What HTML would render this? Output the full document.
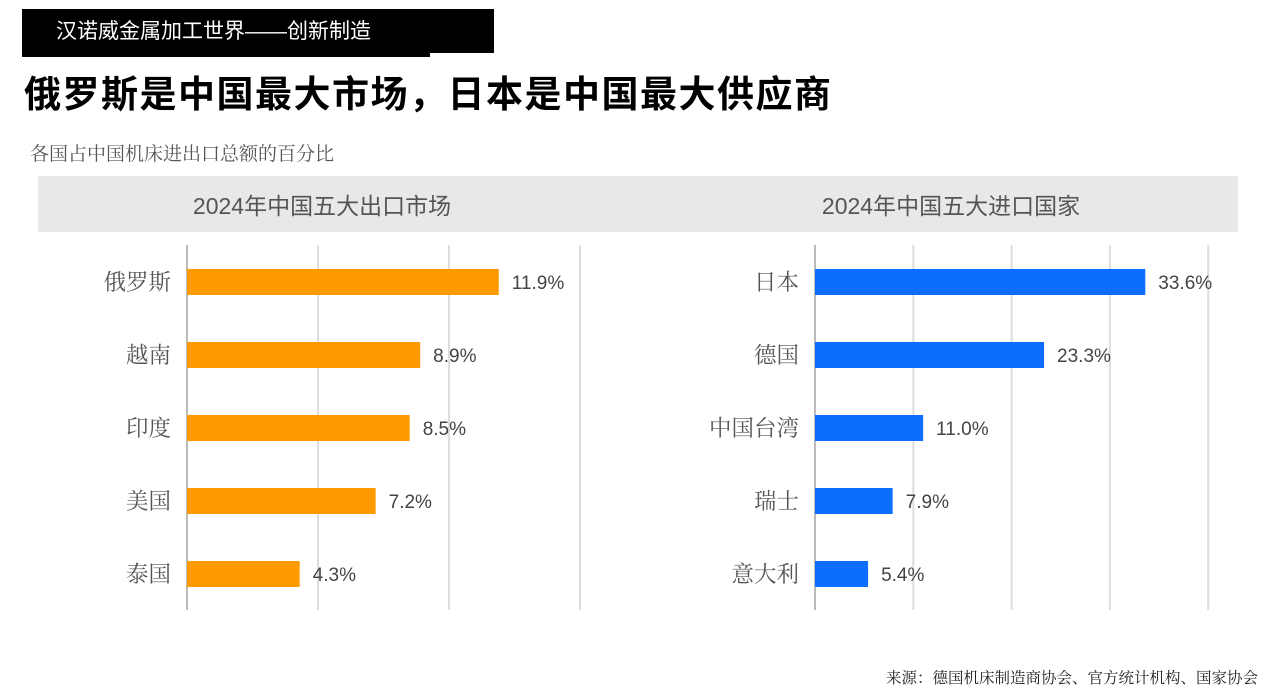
<!DOCTYPE html>
<html><head><meta charset="utf-8"><style>
body{margin:0;width:1279px;height:691px;background:#fff;overflow:hidden;position:relative;font-family:"Liberation Sans","Noto Sans CJK SC",sans-serif}
.abs{position:absolute}
</style></head><body>
<div class="abs" style="left:22px;top:9px;width:472px;height:44px;background:#000"></div>
<div class="abs" style="left:22px;top:50px;width:408px;height:7px;background:#000"></div>
<div class="abs" style="left:56px;top:19px;color:#fff;font-size:21px;line-height:26px">汉诺威金属加工世界——创新制造</div>
<div class="abs" style="left:24px;top:71px;font-size:37px;letter-spacing:1.5px;font-weight:bold;line-height:48px;color:#000">俄罗斯是中国最大市场，日本是中国最大供应商</div>
<div class="abs" style="left:30px;top:139px;font-size:19px;color:#555;font-family:'Noto Serif CJK SC',serif">各国占中国机床进出口总额的百分比</div>
<div class="abs" style="left:38px;top:176px;width:1200px;height:56px;background:#e8e8e8"></div>
<div class="abs" style="left:32px;top:187px;width:580px;text-align:center;font-size:23px;color:#555">2024年中国五大出口市场</div>
<div class="abs" style="left:661px;top:187px;width:580px;text-align:center;font-size:23px;color:#555">2024年中国五大进口国家</div>
<div class="abs" style="left:886px;top:666px;font-size:15.5px;color:#222;font-family:'Noto Serif CJK SC',serif">来源：德国机床制造商协会、官方统计机构、国家协会</div>
<svg class="abs" style="left:0;top:0" width="1279" height="691">
<g id="L"></g><g id="R"></g>
</svg>
<script>
const exportCats=["俄罗斯","越南","印度","美国","泰国"];
const exportVals=[11.9,8.9,8.5,7.2,4.3];
const importCats=["日本","德国","中国台湾","瑞士","意大利"];
const importVals=[33.6,23.3,11.0,7.9,5.4];
const exportTicks=[0,5,10,15];
const importTicks=[0,10,20,30,40];
const NS="http://www.w3.org/2000/svg";
function mk(g,t,a){const e=document.createElementNS(NS,t);for(const k in a)e.setAttribute(k,a[k]);g.appendChild(e);return e;}
function draw(gid,cats,vals,ticks,x0,ppu,color,prefix){
  const g=document.getElementById(gid);
  const x=v=>x0+v*ppu;
  const y=i=>282+i*73;
  ticks.forEach(t=>{const l=mk(g,"line",{x1:x(t),x2:x(t),y1:245,y2:610,stroke:t===0?"#bbb":"#ddd","stroke-width":2});
    
    });
  cats.forEach((c,i)=>{
    const r=mk(g,"rect",{x:x0,y:y(i)-13,width:x(vals[i])-x0,height:26,fill:color});
    
    
    const lb=mk(g,"text",{x:x0-16,y:y(i)+8,"text-anchor":"end","font-size":22.5,fill:"#555","font-family":"'Noto Serif CJK SC',serif"});
    lb.textContent=c;
    
    
    const v=mk(g,"text",{x:x(vals[i])+13,y:y(i)+7,"font-size":19,fill:"#444","font-family":"'Liberation Sans',sans-serif"});
    v.textContent=vals[i].toFixed(1)+"%";
    
    
  });
}
draw("L",exportCats,exportVals,exportTicks,187,26.2,"#ff9b00","export");
draw("R",importCats,importVals,importTicks,815,9.83,"#0d6efd","import");
</script>
</body></html>
